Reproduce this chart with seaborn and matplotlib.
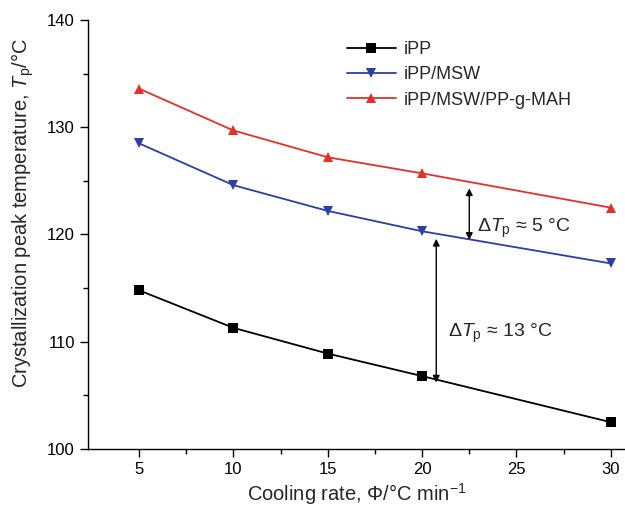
import matplotlib
matplotlib.use("Agg")
import matplotlib.pyplot as plt
import seaborn as sns
import pandas as pd

rates = [5, 10, 15, 20, 30]
ipp = [114.8, 111.3, 108.9, 106.8, 102.5]
ipp_msw = [128.5, 124.6, 122.2, 120.3, 117.3]
ipp_msw_mah = [133.6, 129.7, 127.2, 125.7, 122.5]
series_names = ["iPP", "iPP/MSW", "iPP/MSW/PP-g-MAH"]

sns.set_theme(style="ticks")
plt.rcParams['font.family'] = ['Liberation Sans', 'DejaVu Sans']
plt.rcParams['mathtext.fontset'] = 'custom'
plt.rcParams['mathtext.it'] = 'Liberation Sans:italic'
plt.rcParams['mathtext.rm'] = 'Liberation Sans'

df = pd.DataFrame({
    "rate": rates * 3,
    "Tp": ipp + ipp_msw + ipp_msw_mah,
    "sample": sum([[n] * len(rates) for n in series_names], []),
})

fig = plt.figure(figsize=(6.25, 5.12), dpi=100)
ax = fig.add_axes([0.1408, 0.123, 0.8592, 0.838])

palette = {"iPP": "black", "iPP/MSW": "#2b3fa6", "iPP/MSW/PP-g-MAH": "#e5302a"}
markers = {"iPP": "s", "iPP/MSW": "v", "iPP/MSW/PP-g-MAH": "^"}
sns.lineplot(data=df, x="rate", y="Tp", hue="sample", style="sample",
             palette=palette, markers=markers, dashes=False, markersize=6.8,
             markeredgewidth=0, linewidth=1.3, ax=ax)

ax.set_xlim(2.3, 30.75)
ax.set_ylim(100, 140)
ax.set_xticks([5, 10, 15, 20, 25, 30])
ax.set_xticks([7.5, 12.5, 17.5, 22.5, 27.5], minor=True)
ax.set_yticks([100, 110, 120, 130, 140])
ax.set_yticks([105, 115, 125, 135], minor=True)
ax.tick_params(axis='both', which='major', direction='out', length=6, width=1, labelsize=12, colors='black')
ax.tick_params(axis='both', which='minor', direction='out', length=3.5, width=1, colors='black')
for s in ['top', 'right']:
    ax.spines[s].set_visible(False)
for s in ['left', 'bottom']:
    ax.spines[s].set_color('black')
    ax.spines[s].set_linewidth(1)

ax.set_xlabel("Cooling rate, $\\mathit{\\Phi}$/°C min$^{-1}$", fontsize=14.5, labelpad=3)
ax.set_ylabel("Crystallization peak temperature, $\\mathit{T}_{\\mathrm{p}}$/°C", fontsize=14.5)
ax.yaxis.set_label_coords(-0.097, 0.55)

leg = ax.legend(loc='upper left', bbox_to_anchor=(0.452, 0.988), frameon=False, fontsize=13,
                handlelength=2.7, handletextpad=0.45, labelspacing=0.45)

arrow_kw = dict(arrowstyle='<|-|>', color='black', lw=1, mutation_scale=10, shrinkA=0, shrinkB=0)
ax.annotate("", xy=(22.5, 124.3), xytext=(22.5, 119.5), arrowprops=arrow_kw)
ax.annotate("", xy=(20.75, 119.6), xytext=(20.75, 106.2), arrowprops=arrow_kw)
ax.text(22.9, 120.6, "$\\Delta\\mathit{T}_{\\mathrm{p}}$ ≈ 5 °C", fontsize=14, va='center', ha='left')
ax.text(21.35, 110.8, "$\\Delta\\mathit{T}_{\\mathrm{p}}$ ≈ 13 °C", fontsize=14, va='center', ha='left')

fig.savefig("out.png", dpi=100)
